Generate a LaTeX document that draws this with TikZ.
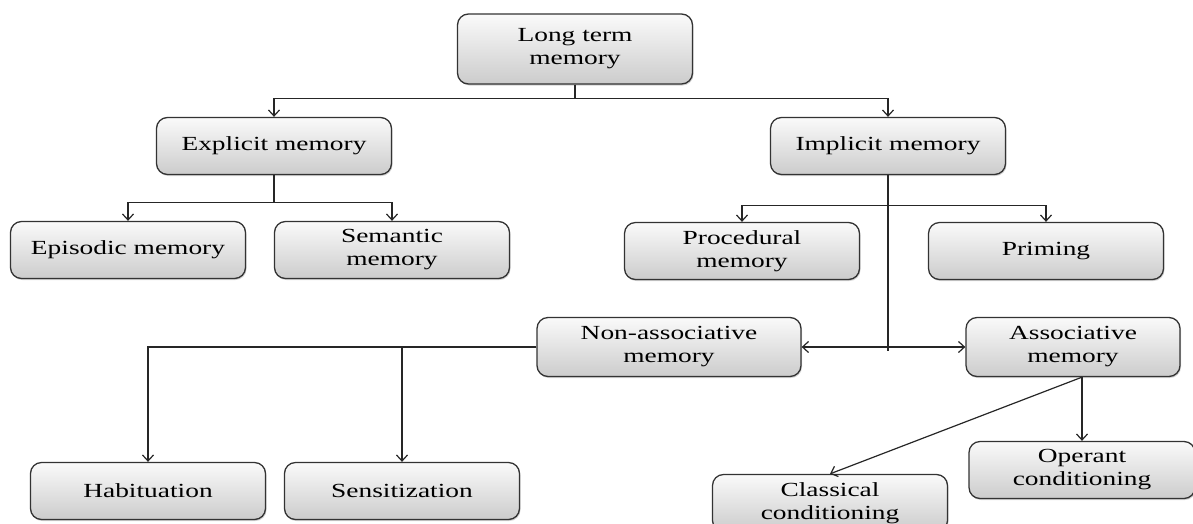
\documentclass[tikz,border=0pt]{standalone}
\usepackage{fontspec}
\setmainfont{Liberation Serif}[FakeStretch=1.37]
\usetikzlibrary{shapes,arrows.meta,positioning,shadows}
\tikzset{basic/.style={draw=black!80,line width=1.3pt,rounded corners=11pt,top color=gray!4,bottom color=gray!40,text=black,align=center,font=\fontsize{20}{23}\selectfont,inner sep=2pt}}
\tikzset{memo/.style={basic,minimum width=235pt,minimum height=57pt,drop shadow={shadow xshift=1pt,shadow yshift=-1.5pt,opacity=0.35}}}
\tikzset{link/.style={draw=black!85,line width=1.2pt,->}}
\tikzset{>={Straight Barb[length=6pt,width=11pt]}}

\begin{document}
\begin{tikzpicture}[x=1pt,y=-1pt,node distance=100pt]
    \useasboundingbox (0,0) rectangle (1193,523);
    \node[memo,minimum height=70pt] (ltm) at (575,49) {Long term\\memory};
    \node[memo,below of=ltm,node distance=97pt,xshift=-301pt] (expl) {Explicit memory};
    \node[memo,right of=expl,node distance=614pt] (impl) {Implicit memory};
    \node[memo,below of=expl,node distance=104pt,xshift=-146pt] (epis) {Episodic memory};
    \node[memo,right of=epis,node distance=264pt] (sem) {Semantic\\memory};
    \node[memo,below of=impl,node distance=105pt,xshift=-146pt] (proc) {Procedural\\memory};
    \node[memo,right of=proc,node distance=304pt] (prim) {Priming};
    \node[memo,below of=proc,node distance=96pt,xshift=-73pt,minimum width=264pt,minimum height=59pt] (nonas) {Non-associative\\memory};
    \node[memo,right of=nonas,node distance=404pt,minimum width=214pt,minimum height=59pt] (assoc) {Associative\\memory};
    \node[memo,below of=epis,node distance=241pt,xshift=20pt] (hab) {Habituation};
    \node[memo,right of=hab,node distance=254pt] (sens) {Sensitization};
    \node[memo,below of=assoc,node distance=123pt,xshift=9pt,minimum width=226pt] (oper) {Operant\\conditioning};
    \node[memo,below of=oper,node distance=33pt,xshift=-252pt] (class) {Classical\\conditioning};

    \coordinate (assocout) at (assoc.south -| oper.north);

        \path[link] (ltm.south) -- ++(0,14) -| (expl.north);
        \path[link] (ltm.south) -- ++(0,14) -| (impl.north);
        \path[link] (expl.south) -- ++(0,27) -| (epis.north);
        \path[link] (expl.south) -- ++(0,27) -| (sem.north);
        \path[link] (impl.south) -- ++(0,30) -| (proc.north);
        \path[link] (impl.south) -- ++(0,30) -| (prim.north);
        \path[link,-] (impl.south) -- ([yshift=-4pt]impl.south |- nonas.east);
        \path[link,<->] (nonas.east) -- (assoc.west);
        \path[link] (nonas.west) -| (hab.north);
        \path[link] (nonas.west) -| (sens.north);
        \path[link] (assocout) -- (oper.north);
        \path[link] (assocout) -- (class.north);
  \end{tikzpicture}
\end{document}
